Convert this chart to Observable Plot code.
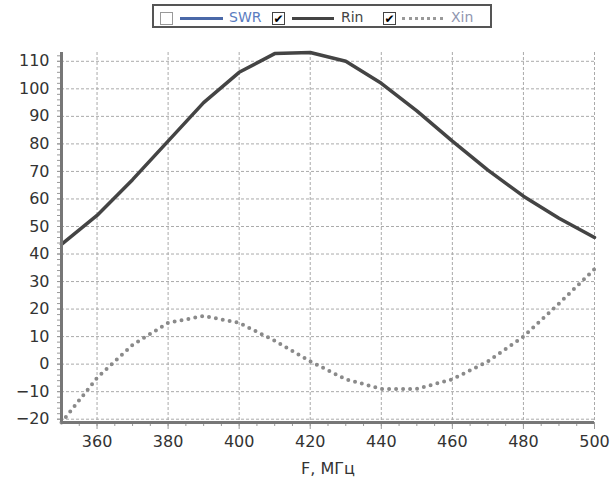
<!DOCTYPE html>
<html><head><meta charset="utf-8">
<script src="https://cdn.jsdelivr.net/npm/d3@7"></script>
<script src="https://cdn.jsdelivr.net/npm/@observablehq/plot@0.6"></script>
<style>
body{margin:0;background:#fff;font-family:"DejaVu Sans",Verdana,sans-serif;}
#legend{position:relative;height:32px;width:614px;}
#legend .box{position:absolute;left:152px;top:4px;width:340px;height:24px;border:2px solid #555;box-sizing:border-box;}
#legend .cb{position:absolute;top:12px;width:13px;height:13px;border:1px solid #999;box-sizing:border-box;background:#fff;font-size:12px;line-height:12px;text-align:center;color:#000;font-weight:bold;}
#legend .cb.on{border-color:#444;}
#legend .ln{position:absolute;top:17px;height:3px;}
#legend .tx{position:absolute;top:10px;font-size:14px;line-height:15px;}
#chart svg{display:block;}
</style></head><body>
<div id="legend">
  <div class="box"></div>
  <div class="cb" style="left:160px"></div>
  <div class="ln" style="left:180px;width:43px;background:#4a68a8"></div>
  <div class="tx" style="left:229px;color:#5a7cc0">SWR</div>
  <div class="cb on" style="left:272px">✔</div>
  <div class="ln" style="left:292px;width:42px;background:#444"></div>
  <div class="tx" style="left:341px;color:#444">Rin</div>
  <div class="cb on" style="left:383px">✔</div>
  <div class="ln" style="left:402px;width:41px;height:0;border-top:3px dotted #999"></div>
  <div class="tx" style="left:451px;color:#9096b0">Xin</div>
</div>
<div id="chart"></div>
<script>
const freq = [350, 360, 370, 380, 390, 400, 410, 420, 430, 440, 450, 460, 470, 480, 490, 500];
const rin  = [43.5, 54, 67, 81, 95, 106, 112.8, 113.2, 110, 102, 92, 81, 70.5, 61, 53, 46];
const xin  = [-21.2, -5, 7, 15, 17.5, 15, 8.5, 1, -5.5, -9, -9, -5.5, 1, 10, 22, 34.5];
const xTicks = [360, 380, 400, 420, 440, 460, 480, 500];
const yTicks = [-20, -10, 0, 10, 20, 30, 40, 50, 60, 70, 80, 90, 100, 110];
const xMinor = d3.range(355, 500, 5);
const yMinor = d3.range(-20, 114, 2);

const data = freq.map((f, i) => ({f, rin: rin[i], xin: xin[i]}));
const gridStyle = {stroke: "#aaa", strokeOpacity: 1, strokeDasharray: "3,2", strokeWidth: 1};

const plot = Plot.plot({
  width: 614, height: 449,
  marginLeft: 61, marginRight: 20, marginTop: 20, marginBottom: 59,
  x: {domain: [350, 500]},
  y: {domain: [-21.2, 113.2]},
  style: {fontFamily: "'DejaVu Sans', Verdana, sans-serif", fontSize: "16px", color: "#333", background: "#fff"},
  marks: [
    Plot.gridX(xTicks, gridStyle),
    Plot.gridY(yTicks, gridStyle),
    Plot.axisX(xMinor, {tickSize: 4, text: null, stroke: "#999", label: null}),
    Plot.axisY(yMinor, {tickSize: 4, text: null, stroke: "#999", label: null}),
    Plot.axisX(xTicks, {tickSize: 7, tickPadding: 6, stroke: "#999", fontSize: 16, label: "F, МГц", labelAnchor: "center", labelArrow: "none", labelOffset: 51}),
    Plot.axisY(yTicks, {tickSize: 4, tickPadding: 8, stroke: "#999", fontSize: 16, label: null}),
    Plot.line(data, {x: "f", y: "xin", stroke: "#8a8a8a", strokeWidth: 4, strokeDasharray: "0 7", strokeLinecap: "round"}),
    Plot.line(data, {x: "f", y: "rin", stroke: "#444", strokeWidth: 3.5}),
    Plot.ruleX([350], {stroke: "#777", strokeWidth: 3}),
    Plot.ruleY([-21.2], {stroke: "#777", strokeWidth: 3})
  ]
});
document.getElementById("chart").appendChild(plot);
</script>
</body></html>
